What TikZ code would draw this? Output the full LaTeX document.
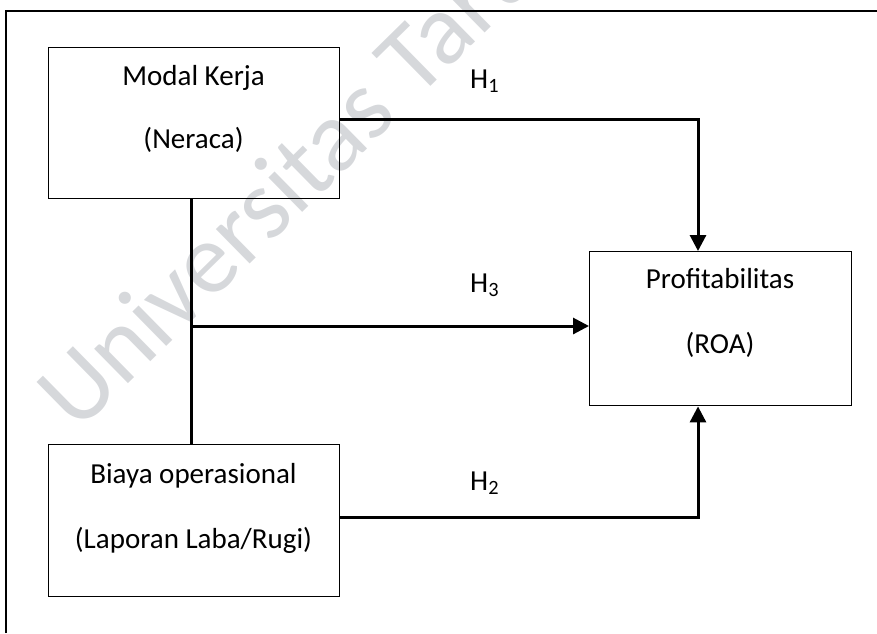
\documentclass[tikz,border=0pt]{standalone}
\usepackage{fontspec}
\setmainfont{Carlito}
\usetikzlibrary{arrows.meta}
\definecolor{wm}{RGB}{214,216,219}
\begin{document}
\begin{tikzpicture}[x=1pt,y=-1pt,
  box/.style={draw,line width=1.4pt,inner sep=0pt,anchor=north west},
  txt/.style={inner sep=0pt,anchor=base,font=\fontsize{29}{35}\selectfont},
  hlab/.style={inner sep=0pt,anchor=base west,font=\fontsize{29}{35}\selectfont},
  conn/.style={line width=3pt},
  arr/.style={line width=3pt,-{Triangle[width=16pt,length=16pt]}},
  frame/.style={line width=1.3pt}]
\useasboundingbox (0,0) rectangle (877,633);
% watermark
\begin{scope}
\clip (0,0) rectangle (877,633);
\node[inner sep=0pt,anchor=base west,rotate=44.5,text=wm,font=\fontsize{101}{120}\selectfont] (wmk) at (77,434) {Universitas Tarumanagara};
\end{scope}
% outer frame
\draw[frame] (6,633) -- (6,11) -- (877,11);
% boxes
\node[box,minimum width=291pt,minimum height=151pt] (m) at (48,47) {};
\node[box,minimum width=291pt,minimum height=152pt] (b) at (48,444) {};
\node[box,minimum width=262pt,minimum height=154pt] (p) at (589,251) {};
% texts
\node[txt] (m1) at (193.5,85) {Modal Kerja};
\node[txt] (m2) at (193.5,148) {(Neraca)};
\node[txt] (b1) at (193.5,483) {Biaya operasional};
\node[txt] (b2) at (193.5,548) {(Laporan Laba/Rugi)};
\node[txt] (p1) at (720,288) {Profitabilitas};
\node[txt] (p2) at (720,353) {(ROA)};
% labels
\node[hlab] (h1) at (470,88) {H\textsubscript{1}};
\node[hlab] (h3) at (470,292) {H\textsubscript{3}};
\node[hlab] (h2) at (470,490) {H\textsubscript{2}};
% coordinates
\coordinate (vx) at (191,0);
\coordinate (j3) at (191,326);
\coordinate (c1) at (698,119);
\coordinate (c2) at (698,517);
% connectors
\draw[conn] (m.south -| vx) -- (b.north -| vx);
\draw[arr] (j3) -- (j3 -| p.west);
\draw[arr] (c1 -| m.east) -- (c1) -- (c1 |- p.north);
\draw[arr] (c2 -| b.east) -- (c2) -- (c2 |- p.south);
\end{tikzpicture}
\end{document}
